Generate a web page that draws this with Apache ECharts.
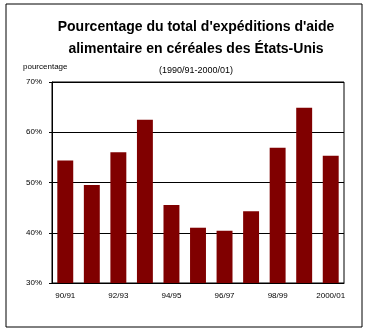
<!DOCTYPE html>
<html><head><meta charset="utf-8">
<script src="https://cdn.jsdelivr.net/npm/echarts@6/dist/echarts.min.js"></script>
<style>html,body{margin:0;padding:0;background:#fff}#c{width:367px;height:333px}</style>
</head><body><div id="c"></div>
<script>
var categories = ['90/91','91/92','92/93','93/94','94/95','95/96','96/97','97/98','98/99','99/00','2000/01'];
var values = [54.4, 49.5, 56.0, 62.5, 45.5, 41.0, 40.4, 44.3, 56.9, 64.9, 55.3];
var yTicks = [30, 40, 50, 60, 70];
var titleLines = ["Pourcentage du total d'expéditions d'aide", "alimentaire en céréales des États-Unis"];
var subtitle = '(1990/91-2000/01)';
var yName = 'pourcentage';

var chart = echarts.init(document.getElementById('c'));
chart.setOption({
  animation: false,
  title: {
    text: titleLines.join('\n'),
    subtext: subtitle,
    left: 191, top: 11, textAlign: 'center',
    itemGap: 6,
    textStyle: {fontFamily: 'Arial, Liberation Sans', fontWeight: 'bold', fontSize: 14, color: '#000', lineHeight: 22},
    subtextStyle: {fontFamily: 'Arial, Liberation Sans', fontSize: 9, color: '#000'}
  },
  graphic: [
    {type: 'rect', shape: {x: 6, y: 4, width: 356, height: 323}, style: {fill: 'none', stroke: '#000', lineWidth: 1}, silent: true},
    {type: 'text', left: 23, top: 63, style: {text: yName, font: '8px Arial, Liberation Sans', fill: '#000'}}
  ],
  grid: {left: 52, right: 23, top: 82, bottom: 50, show: true, borderColor: '#000', borderWidth: 1},
  xAxis: {
    type: 'category', data: categories,
    axisLine: {lineStyle: {color: '#000', width: 1}},
    axisTick: {show: false},
    axisLabel: {interval: 1, color: '#000', fontSize: 8, fontFamily: 'Arial, Liberation Sans', margin: 9}
  },
  yAxis: {
    type: 'value', min: yTicks[0], max: yTicks[yTicks.length-1], interval: 10,
    axisLine: {show: true, lineStyle: {color: '#000'}},
    axisTick: {show: true, length: 3, lineStyle: {color: '#000'}},
    splitLine: {lineStyle: {color: '#000', width: 1}},
    axisLabel: {formatter: '{value}%', color: '#000', fontSize: 8, fontFamily: 'Arial, Liberation Sans', margin: 10}
  },
  series: [{
    type: 'bar', data: values, barWidth: '60%',
    itemStyle: {color: '#800000'}
  }]
});
</script></body></html>
